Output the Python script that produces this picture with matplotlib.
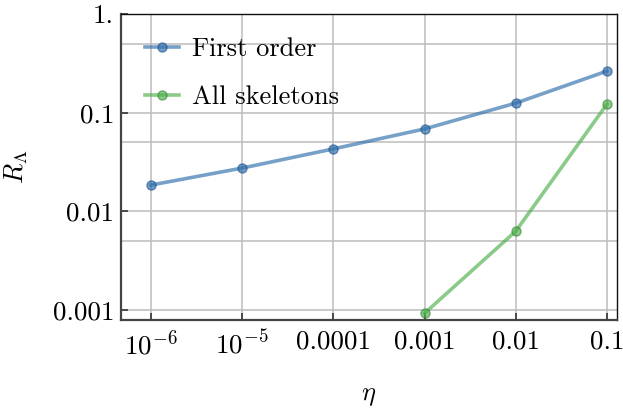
import matplotlib
matplotlib.use("Agg")
from matplotlib import pyplot as plt
from matplotlib.ticker import FixedLocator, FixedFormatter
import numpy as np

eta = [1e-6, 1e-5, 1e-4, 1e-3, 1e-2, 1e-1]
first_order = [0.0185, 0.0275, 0.0430, 0.0685, 0.125, 0.264]

eta_skel = [1e-3, 1e-2, 1e-1]
all_skeletons = [0.00093, 0.0063, 0.122]

xtick_vals = [1e-6, 1e-5, 1e-4, 1e-3, 1e-2, 1e-1]
xtick_labels = [r"$10^{-6}$", r"$10^{-5}$", "0.0001", "0.001", "0.01", "0.1"]
ytick_vals = [1e-3, 1e-2, 1e-1, 1.0]
ytick_labels = ["0.001", "0.01", "0.1", "1."]
ygrid_minor = [0.005, 0.05, 0.5]

plt.rcParams["font.family"] = "cmr10"
plt.rcParams["mathtext.fontset"] = "cm"
plt.rcParams["axes.unicode_minus"] = False

fig = plt.figure(figsize=(6.23, 4.08), dpi=100)
ax = fig.add_axes([0.1942, 0.2157, 0.7961, 0.7500])

blue = "#2f6eab"
green = "#4caf4a"
ax.plot(eta, first_order, "-o", color=blue, alpha=0.65, lw=2.6, ms=6.5,
        mec="#1f5590", label="First order", zorder=3)
ax.plot(eta_skel, all_skeletons, "-o", color=green, alpha=0.65, lw=2.6, ms=6.5,
        mec="#3a8a3a", label="All skeletons", zorder=3)

ax.set_xscale("log")
ax.set_yscale("log")
ax.set_xlim(10**-6.33, 10**-0.89)
ax.set_ylim(10**-3.10, 1.0)

ax.xaxis.set_major_locator(FixedLocator(xtick_vals))
ax.xaxis.set_major_formatter(FixedFormatter(xtick_labels))
ax.xaxis.set_minor_locator(FixedLocator([]))
ax.yaxis.set_major_locator(FixedLocator(ytick_vals))
ax.yaxis.set_major_formatter(FixedFormatter(ytick_labels))
ax.yaxis.set_minor_locator(FixedLocator(ygrid_minor))

ax.tick_params(which="major", direction="in", length=5, width=1.2,
               labelsize=19.5, color="#333333")
ax.tick_params(axis="x", pad=7)
ax.tick_params(axis="y", pad=5)
ax.tick_params(which="minor", length=0)

ax.grid(True, which="major", color="#bcbcbc", lw=1.1)
ax.grid(True, which="minor", axis="y", color="#bcbcbc", lw=1.1)
ax.set_axisbelow(True)

for side in ["left", "bottom"]:
    ax.spines[side].set_linewidth(1.6)
    ax.spines[side].set_color("#444444")
for side in ["top", "right"]:
    ax.spines[side].set_linewidth(1.0)
    ax.spines[side].set_color("#111111")

ax.set_xlabel(r"$\eta$", fontsize=19, labelpad=18)
ax.set_ylabel(r"$R_\Lambda$", fontsize=19, labelpad=16)

ax.legend(loc="upper left", frameon=False, fontsize=19, handlelength=1.3,
          borderaxespad=0.5, borderpad=0.4, labelspacing=0.9, handletextpad=0.5)

plt.savefig("out.png", dpi=100)
